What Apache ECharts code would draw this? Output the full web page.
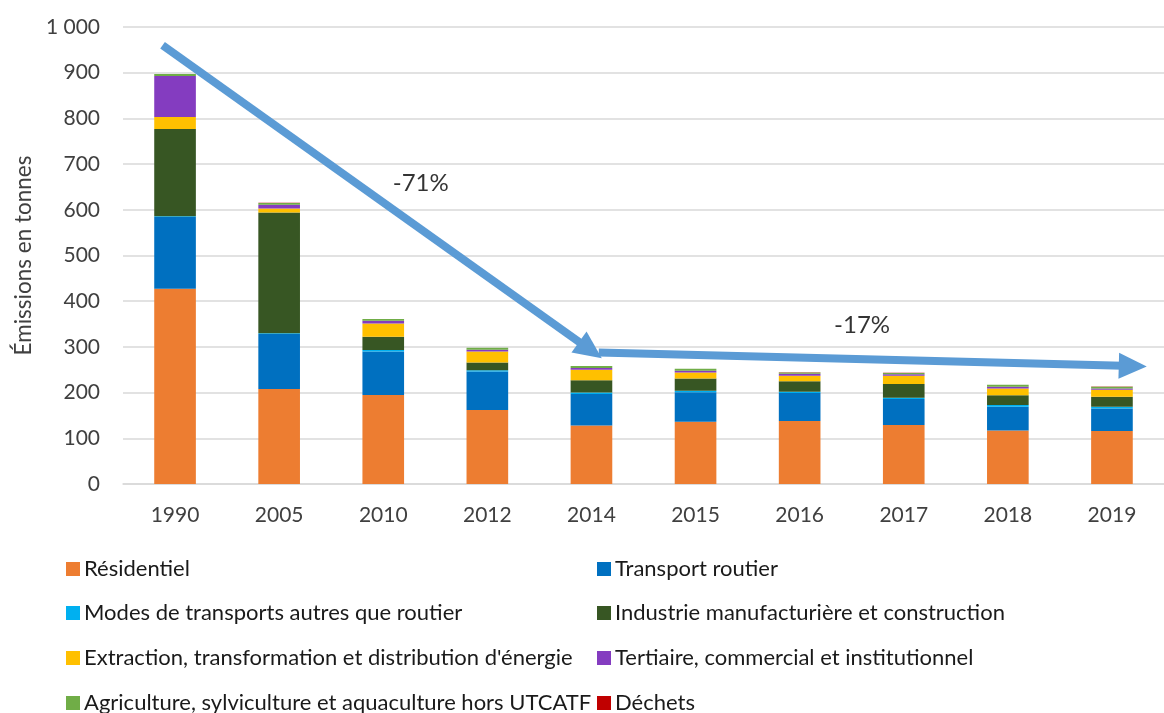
<!DOCTYPE html>
<html>
<head>
<meta charset="utf-8">
<script src="https://cdn.jsdelivr.net/npm/echarts@6/dist/echarts.min.js"></script>
<style>
html,body{margin:0;padding:0;background:#fff;}
#chart{width:1164px;height:713px;}
</style>
</head>
<body>
<div id="chart"></div>
<script>
const years = ['1990','2005','2010','2012','2014','2015','2016','2017','2018','2019'];
const residentiel = [427, 208, 195, 162, 128, 136, 138, 129, 117, 116];
const transportRoutier = [157, 120, 95, 84, 69, 65, 61, 57, 52, 49];
const modesAutres = [2, 2, 3, 3, 3, 3, 3, 3, 4, 4];
const industrie = [191, 264, 29, 17, 27, 27, 23, 30, 21, 22];
const extraction = [26, 9, 29, 24, 23, 13, 12, 18, 15, 15];
const tertiaire = [90, 8, 6, 4, 4, 4, 4, 3, 4, 3];
const agriculture = [4, 4, 4, 4, 4, 4, 3, 3, 4, 4];
const dechets = [0.3, 0.3, 0.3, 0.3, 0.3, 0.3, 0.3, 0.3, 0.3, 0.3];
const yTicks = [0, 100, 200, 300, 400, 500, 600, 700, 800, 900, 1000];

// trend annotations (category-index position, value)
const arrow1 = [[-0.12, 960], [3.99, 293]];
const arrow2 = [[4.07, 288], [9.2, 258]];
const trendLabels = [[2.36, 659, '-71%'], [6.60, 348, '-17%']];

const FONT = 'Lato';
const seriesDefs = [
  ['Résidentiel', residentiel, '#ED7D31'],
  ['Transport routier', transportRoutier, '#0070C0'],
  ['Modes de transports autres que routier', modesAutres, '#00B0F0'],
  ['Industrie manufacturière et construction', industrie, '#375623'],
  ['Extraction, transformation et distribution d\'énergie', extraction, '#FFC000'],
  ['Tertiaire, commercial et institutionnel', tertiaire, '#843CC0'],
  ['Agriculture, sylviculture et aquaculture hors UTCATF', agriculture, '#70AD47'],
  ['Déchets', dechets, '#C00000']
];

const series = seriesDefs.map(([name, data, color]) => ({
  name, type: 'bar', stack: 'total', data, barWidth: '40%',
  itemStyle: { color }, emphasis: { disabled: true }
}));

series.push({
  type: 'line', xAxisIndex: 1, data: [], silent: true,
  markLine: {
    silent: true, animation: false,
    symbol: ['none', 'triangle'], symbolSize: [26, 28],
    lineStyle: { color: '#5B9BD5', width: 8, type: 'solid' },
    label: { show: false },
    data: [
      [{ coord: arrow1[0] }, { coord: arrow1[1] }],
      [{ coord: arrow2[0] }, { coord: arrow2[1] }]
    ]
  }
});
series.push({
  type: 'scatter', xAxisIndex: 1, silent: true, symbolSize: 1,
  itemStyle: { color: 'rgba(0,0,0,0)' },
  data: trendLabels.map(d => ({ value: [d[0], d[1]], name: d[2] })),
  label: { show: true, position: 'inside', formatter: p => p.name,
    fontFamily: FONT, fontSize: 24, color: '#000' }
});

// legend: two columns, four rows (row-major order of the series)
const legendCols = [66, 597];
const legendRowTops = [558, 602, 647, 692];
const legends = seriesDefs.map(([name], i) => ({
  orient: 'horizontal', left: legendCols[i % 2], top: legendRowTops[Math.floor(i / 2)],
  padding: 0, itemWidth: 14, itemHeight: 14, icon: 'rect', selectedMode: false,
  data: [name],
  textStyle: { fontFamily: FONT, fontSize: 22, lineHeight: 22, color: '#1a1a1a', padding: [0, 0, 0, -1] }
}));

const chart = echarts.init(document.getElementById('chart'));
chart.setOption({
  animation: false,
  backgroundColor: '#fff',
  grid: { left: 123, top: 27, width: 1053, height: 457, containLabel: false },
  legend: legends,
  xAxis: [
    {
      type: 'category', data: years,
      axisLine: { lineStyle: { color: '#D9D9D9', width: 1.5 } },
      axisTick: { show: false },
      axisLabel: { fontFamily: FONT, fontSize: 21, color: '#404040', margin: 21 }
    },
    { type: 'value', min: -0.5, max: 9.5, show: false }
  ],
  yAxis: {
    type: 'value', min: yTicks[0], max: yTicks[yTicks.length - 1], interval: 100,
    name: 'Émissions en tonnes', nameLocation: 'middle', nameGap: 86, nameRotate: 90,
    nameTextStyle: { fontFamily: FONT, fontSize: 22.5, color: '#404040' },
    axisLine: { show: false }, axisTick: { show: false },
    splitLine: { lineStyle: { color: '#D9D9D9', width: 1.5 } },
    axisLabel: {
      fontFamily: FONT, fontSize: 21, color: '#404040', margin: 23,
      formatter: v => v >= 1000 ? String(Math.floor(v / 1000)) + ' ' + String(v % 1000).padStart(3, '0') : String(v)
    }
  },
  series
});
</script>
</body>
</html>
